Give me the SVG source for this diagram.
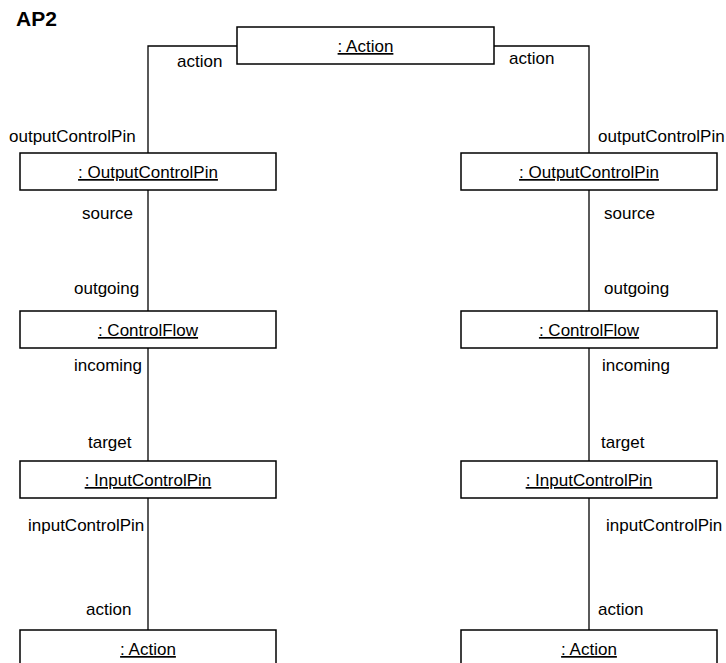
<svg xmlns="http://www.w3.org/2000/svg" width="726" height="663" viewBox="0 0 726 663">
<style>
.box{fill:#fff;stroke:#000;stroke-width:1.5}
.ln{fill:none;stroke:#000;stroke-width:1.3}
text{font-family:"Liberation Sans",Arial,sans-serif;font-size:17px;fill:#000}
.c{text-anchor:middle;text-decoration:underline}
.t{font-weight:bold;font-size:21px}
</style>
<rect width="726" height="663" fill="#fff"/>
<text class="t" x="16" y="26">AP2</text>
<g id="connectors">
<polyline class="ln" points="237,46 148,46 148,153"/>
<polyline class="ln" points="494,46 589,46 589,153"/>
<line class="ln" x1="148" y1="190" x2="148" y2="311"/>
<line class="ln" x1="148" y1="348" x2="148" y2="461"/>
<line class="ln" x1="148" y1="498" x2="148" y2="630"/>
<line class="ln" x1="589" y1="190" x2="589" y2="311"/>
<line class="ln" x1="589" y1="348" x2="589" y2="461"/>
<line class="ln" x1="589" y1="498" x2="589" y2="630"/>
<text x="177" y="67">action</text>
<text x="509" y="64">action</text>
<text x="9" y="142">outputControlPin</text>
<text x="598" y="142">outputControlPin</text>
<text x="82" y="219">source</text>
<text x="604" y="219">source</text>
<text x="74" y="294">outgoing</text>
<text x="604" y="294">outgoing</text>
<text x="74" y="371">incoming</text>
<text x="602" y="371">incoming</text>
<text x="88" y="448">target</text>
<text x="601" y="448">target</text>
<text x="28" y="531">inputControlPin</text>
<text x="606" y="531">inputControlPin</text>
<text x="86" y="615">action</text>
<text x="598" y="615">action</text>
</g>
<g id="action-top"><rect class="box" x="237" y="27" width="257" height="37"/><text class="c" x="365.5" y="52">: Action</text></g>
<g id="ocp-left"><rect class="box" x="20" y="153" width="256" height="37"/><text class="c" x="148" y="178">: OutputControlPin</text></g>
<g id="ocp-right"><rect class="box" x="461" y="153" width="256" height="37"/><text class="c" x="589" y="178">: OutputControlPin</text></g>
<g id="cf-left"><rect class="box" x="20" y="311" width="256" height="37"/><text class="c" x="148" y="336">: ControlFlow</text></g>
<g id="cf-right"><rect class="box" x="461" y="311" width="256" height="37"/><text class="c" x="589" y="336">: ControlFlow</text></g>
<g id="icp-left"><rect class="box" x="20" y="461" width="256" height="37"/><text class="c" x="148" y="486">: InputControlPin</text></g>
<g id="icp-right"><rect class="box" x="461" y="461" width="256" height="37"/><text class="c" x="589" y="486">: InputControlPin</text></g>
<g id="action-left"><rect class="box" x="20" y="630" width="256" height="37"/><text class="c" x="148" y="655">: Action</text></g>
<g id="action-right"><rect class="box" x="461" y="630" width="256" height="37"/><text class="c" x="589" y="655">: Action</text></g>
</svg>
